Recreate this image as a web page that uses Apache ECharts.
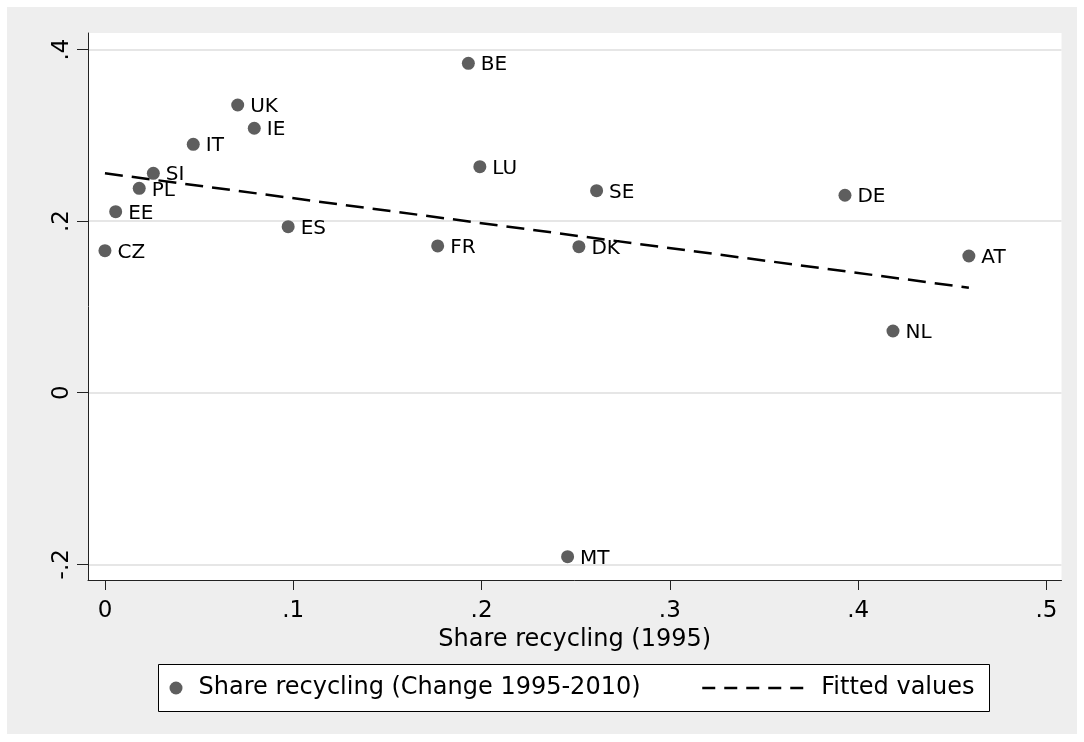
<!DOCTYPE html>
<html>
<head>
<meta charset="utf-8">
<script src="https://cdn.jsdelivr.net/npm/echarts@6/dist/echarts.min.js"></script>
<style>
  html, body { margin: 0; padding: 0; background: #ffffff; }
  #chart { width: 1084px; height: 742px; }
</style>
</head>
<body>
<div id="chart"></div>
<script>
// ---- data ----
const countries = ['BE', 'UK', 'IE', 'IT', 'SI', 'PL', 'EE', 'CZ', 'ES', 'LU', 'FR', 'SE', 'DK', 'DE', 'AT', 'NL', 'MT'];
const share1995 = [0.193, 0.0705, 0.0793, 0.0469, 0.0257, 0.0182, 0.0057, 0.0, 0.0973, 0.1991, 0.1767, 0.2611, 0.2517, 0.393, 0.4588, 0.4185, 0.2457];
const shareChange = [0.3839, 0.3353, 0.3082, 0.2895, 0.2557, 0.2382, 0.211, 0.1655, 0.1935, 0.2634, 0.171, 0.2354, 0.1702, 0.2301, 0.1593, 0.0719, -0.1911];
const fitX = [0, 0.4588];
const fitY = [0.2557, 0.1224];
const xTicks = [0, 0.1, 0.2, 0.3, 0.4, 0.5];
const yTicks = [-0.2, 0, 0.2, 0.4];
const seriesNames = ['Share recycling (Change 1995-2010)', 'Fitted values'];
const xTitle = 'Share recycling (1995)';

const FONT = 'DejaVu Sans';
const fmt = v => (v === 0 ? '0' : String(v).replace('0.', '.'));

const scatterData = countries.map((c, i) => [share1995[i], shareChange[i], c]);
const fitData = fitX.map((x, i) => [x, fitY[i]]);

const chart = echarts.init(document.getElementById('chart'), null, { renderer: 'canvas' });
chart.setOption({
  backgroundColor: '#ffffff',
  animation: false,
  textStyle: { fontFamily: FONT, color: '#000' },
  graphic: {
    elements: [
      { type: 'rect', z: -10, silent: true, shape: { x: 7, y: 7, width: 1070, height: 727 }, style: { fill: '#eeeeee' } },
      { type: 'rect', z: 1, silent: true, shape: { x: 158.5, y: 664.5, width: 831, height: 47 }, style: { fill: '#ffffff', stroke: '#000', lineWidth: 1 } }
    ]
  },
  grid: {
    left: 88, right: 22.5, top: 33, bottom: 162,
    show: true, backgroundColor: '#ffffff', borderWidth: 0
  },
  legend: [
    {
      data: [seriesNames[0]], selectedMode: false, left: 169.5, top: 676, padding: 0,
      icon: 'circle', itemWidth: 13, itemHeight: 13,
      textStyle: { fontFamily: FONT, fontSize: 24, color: '#000', padding: [0, 0, 0, 11] }
    },
    {
      data: [seriesNames[1]], selectedMode: false, left: 701, top: 676, padding: 0,
      itemWidth: 101, itemHeight: 13,
      itemStyle: { opacity: 0 },
      lineStyle: { color: '#000', width: 2.5, type: [13, 9] },
      textStyle: { fontFamily: FONT, fontSize: 24, color: '#000', padding: [0, 0, 0, 13] }
    }
  ],
  xAxis: {
    type: 'value', min: -0.009, max: 0.508,
    name: xTitle, nameLocation: 'middle', nameGap: 36,
    nameTextStyle: { fontFamily: FONT, fontSize: 24, color: '#000' },
    axisLine: { show: true, onZero: false, lineStyle: { color: '#222', width: 1 } },
    axisTick: { show: true, length: 10, customValues: xTicks, lineStyle: { color: '#222', width: 1 } },
    axisLabel: { customValues: xTicks, formatter: fmt, fontFamily: FONT, fontSize: 23, color: '#000', margin: 20 },
    splitLine: { show: false }
  },
  yAxis: {
    type: 'value', min: -0.2183, max: 0.4192,
    axisLine: { show: true, onZero: false, lineStyle: { color: '#222', width: 1 } },
    axisTick: { show: true, length: 11, customValues: yTicks, lineStyle: { color: '#222', width: 1 } },
    axisLabel: { customValues: yTicks, formatter: fmt, rotate: 90, fontFamily: FONT, fontSize: 23, color: '#000', margin: 14 },
    splitLine: { show: true, lineStyle: { color: '#e6e6e6', width: 2 } }
  },
  series: [
    {
      name: seriesNames[0], type: 'scatter', data: scatterData,
      symbol: 'circle', symbolSize: 13,
      itemStyle: { color: '#5e5e5e', opacity: 1 },
      label: {
        show: true, position: 'right', distance: 6, offset: [0, 2],
        formatter: p => p.data[2], fontFamily: FONT, fontSize: 20, color: '#000'
      },
      z: 3
    },
    {
      name: seriesNames[1], type: 'line', data: fitData,
      symbol: 'none', showSymbol: false,
      lineStyle: { color: '#000', width: 2.5, type: [18, 9] },
      itemStyle: { color: '#000' },
      z: 2
    }
  ]
});
</script>
</body>
</html>
